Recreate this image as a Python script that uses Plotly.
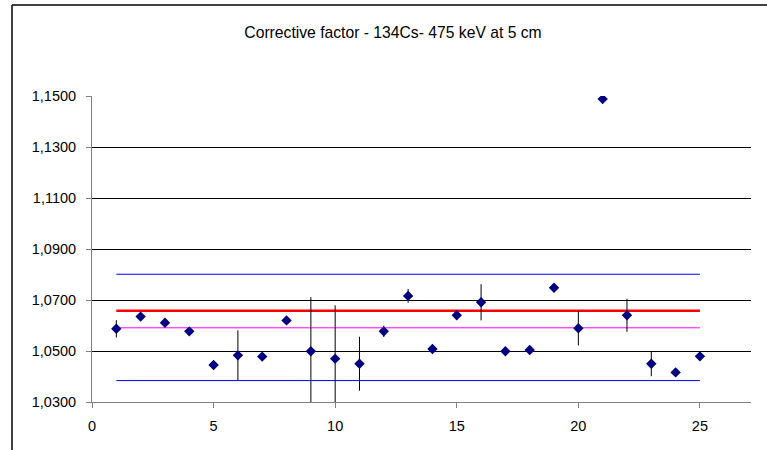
import plotly.graph_objects as go

# Data
run_index = list(range(1, 26))
factor = [1.0587, 1.0635, 1.0611, 1.0577, 1.0445, 1.0483, 1.0478, 1.0620, 1.0499, 1.0470,
          1.0450, 1.0577, 1.0716, 1.0508, 1.0640, 1.0691, 1.0499, 1.0504, 1.0748, 1.0589,
          1.1488, 1.0640, 1.0450, 1.0416, 1.0479]
factor_err = [0.0034, 0.0, 0.0, 0.0, 0.0, 0.0098, 0.0, 0.0, 0.0212, 0.0209,
              0.0106, 0.0022, 0.0027, 0.0, 0.0, 0.0071, 0.0, 0.0, 0.0, 0.0067,
              0.0, 0.0065, 0.0049, 0.0, 0.0]

line_x = [1, 25]
upper_limit = 1.0801
lower_limit = 1.0384
mean_value = 1.0591
reference_value = 1.0658

y_ticks = [1.03, 1.05, 1.07, 1.09, 1.11, 1.13, 1.15]
x_ticks = [0, 5, 10, 15, 20, 25]

title_text = "Corrective factor - 134Cs- 475 keV at 5 cm"

fig = go.Figure()

fig.add_trace(go.Scatter(x=line_x, y=[upper_limit, upper_limit], mode="lines",
                         line=dict(color="#0000FF", width=1), showlegend=False, hoverinfo="skip"))
fig.add_trace(go.Scatter(x=line_x, y=[lower_limit, lower_limit], mode="lines",
                         line=dict(color="#0000FF", width=1), showlegend=False, hoverinfo="skip"))
fig.add_trace(go.Scatter(x=line_x, y=[mean_value, mean_value], mode="lines",
                         line=dict(color="#FF00FF", width=1), showlegend=False, hoverinfo="skip"))
fig.add_trace(go.Scatter(x=line_x, y=[reference_value, reference_value], mode="lines",
                         line=dict(color="#FF0000", width=2.5), showlegend=False, hoverinfo="skip"))

fig.add_trace(go.Scatter(
    x=run_index, y=factor, mode="markers",
    marker=dict(symbol="diamond", size=8, color="#000080"),
    error_y=dict(type="data", array=factor_err, visible=True, color="#000000",
                 thickness=1, width=0),
    showlegend=False,
))

# outer chart frame (top and left edges visible in the window)
frame_style = dict(color="#000000", width=1.5)
fig.add_shape(type="line", xref="paper", yref="paper",
              x0=-0.1214, x1=1.2, y0=1.2975, y1=1.2975, line=frame_style)
fig.add_shape(type="line", xref="paper", yref="paper",
              x0=-0.1214, x1=-0.1214, y0=-0.3, y1=1.2975, line=frame_style)

fig.update_layout(
    width=767, height=450,
    margin=dict(l=92, r=16, t=96, b=48),
    paper_bgcolor="white", plot_bgcolor="white",
    separators=", ",
    font=dict(family="Liberation Sans, Arial, sans-serif", size=14.5, color="#000000"),
    title=dict(text=title_text, x=393 / 767, xref="container", xanchor="center",
               y=1 - 33 / 450, yanchor="middle",
               font=dict(size=15.7, color="#000000")),
    showlegend=False,
)

fig.update_xaxes(
    range=[0, 27.1], tickvals=x_ticks, ticks="outside", ticklen=5, tickcolor="#808080",
    showline=True, linecolor="#808080", linewidth=1, showgrid=False, zeroline=False,
    tickfont=dict(size=14.5), ticklabelstandoff=6,
)
fig.update_yaxes(
    range=[1.03, 1.15], tickvals=y_ticks, tickformat=".4f", ticks="outside", ticklen=5,
    tickcolor="#808080", showline=True, linecolor="#808080", linewidth=1,
    showgrid=True, gridcolor="#000000", gridwidth=1, zeroline=False,
    tickfont=dict(size=14.5), ticklabelstandoff=7,
)

fig.write_html("out.html", config={"displayModeBar": False},
               post_script="document.body.style.margin='0';")
